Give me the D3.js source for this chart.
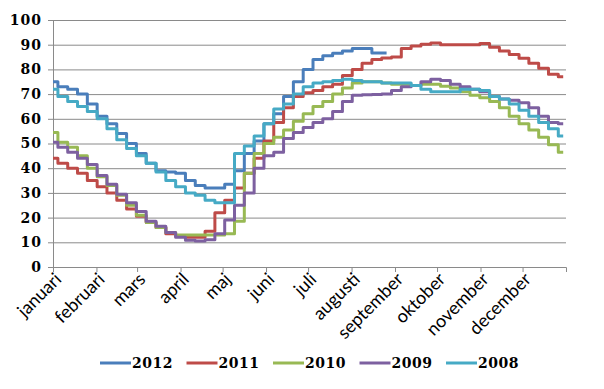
<!DOCTYPE html>
<html>
<head>
<meta charset="utf-8">
<script src="https://cdn.jsdelivr.net/npm/d3@7"></script>
<style>
  body { margin: 0; background: #fff; }
  #app { width: 604px; height: 389px; }
</style>
</head>
<body>
<div id="app"></div>
<script>
(function (d3) {
  'use strict'

  // weekly values, week 1..53
  const months = ['januari', 'februari', 'mars', 'april', 'maj', 'juni', 'juli',
    'augusti', 'september', 'oktober', 'november', 'december']
  const yTicks = [0, 10, 20, 30, 40, 50, 60, 70, 80, 90, 100]

  const v2012 = [75, 73, 72, 70, 66, 61, 58, 54, 50, 46, 42, 39, 38.5, 38, 35, 33, 32, 32, 33.5,
    39, 46, 51, 58, 62, 69, 75, 80, 84, 85.5, 86.5, 87.5, 88.5, 88.5, 86.6, 86.6]
  const v2011 = [44, 42, 40, 38, 35, 32.5, 30, 27, 23.5, 20.5, 18, 16, 13.5, 12.5, 12, 12, 14.5,
    22, 27, 32, 38, 44, 51, 58.5, 64.5, 69, 70.5, 71.5, 73, 74, 77.5, 80, 82.5, 84, 84.6, 85,
    88.5, 89.5, 90.2, 90.7, 90, 90, 90, 90, 90.5, 89, 87.5, 86, 84.5, 82.5, 80.5, 78, 77]
  const v2010 = [54.5, 50.5, 48.5, 45, 40, 36.5, 33, 29, 25, 21, 18, 16, 14, 13, 13, 13, 13, 13,
    13.5, 18.5, 38, 46, 50, 52.5, 55.5, 59, 62, 65, 67, 70, 72.5, 74.5, 75, 75, 74.5, 74, 74,
    73.5, 74, 74, 73.2, 72.5, 71, 69.5, 68.5, 67, 64.5, 61, 58, 55.5, 52.5, 49.5, 46.5]
  const v2009 = [50.5, 48.5, 46.5, 44, 41.5, 37, 33.5, 29.5, 26, 22.5, 18.5, 16.5, 14, 12, 10.8,
    10.5, 11, 13.5, 19, 25, 30, 40, 45, 46.5, 52, 54.5, 56.5, 58.5, 60, 63, 67, 69.5, 69.7, 69.8,
    70, 71.5, 73, 73.5, 75, 76, 75.5, 74, 73, 72, 71, 69, 68, 67.5, 66.5, 64.5, 61, 58.5, 58]
  const v2008 = [72, 69, 67, 65, 63, 60, 56, 51.5, 48, 45, 42, 38.5, 35, 32.5, 30, 29, 27, 26, 26,
    46, 49, 53, 58, 64, 66, 70, 73, 74.5, 75, 75.5, 76, 75.5, 75, 75, 74.5, 74.5, 74.5, 73.5, 72,
    71, 71, 71, 72, 72, 71.5, 69, 68, 66, 63.5, 61, 58.5, 56, 53]

  const seriesNames = ['2012', '2011', '2010', '2009', '2008']
  const seriesValues = [v2012, v2011, v2010, v2009, v2008]
  const colors = ['#4a7ebb', '#be4b48', '#98b954', '#7d60a0', '#46aac5']

  const margin = {top: 20, left: 53, right: 38, bottom: 122}
  const w = 604
  const h = 389
  const iw = w - margin.left - margin.right
  const ih = h - margin.top - margin.bottom

  const svg = d3.select('#app').append('svg')
    .attr('width', w)
    .attr('height', h)

  const g = svg.append('g')
    .attr('transform', 'translate(' + margin.left + ',' + margin.top + ')')

  const x = d3.scaleLinear().domain([0, 366]).range([0, iw])
  const y = d3.scaleLinear().domain([0, 100]).range([ih, 0])

  // month start days (2012)
  const monthStarts = months.map((m, i) => d3.timeDay.count(new Date(2012, 0, 1), new Date(2012, i, 1)))

  // gridlines
  g.append('g')
    .selectAll('line')
    .data(yTicks.filter(t => t > 0))
    .enter().append('line')
    .attr('x1', 0)
    .attr('x2', iw)
    .attr('y1', d => y(d) + 0.5)
    .attr('y2', d => y(d) + 0.5)
    .attr('stroke', '#8a8a8a')
    .attr('stroke-width', 1)

  // y axis
  const yAxis = g.append('g')
    .call(d3.axisLeft(y).tickValues(yTicks).tickSize(5).tickPadding(6))
  yAxis.select('.domain').attr('stroke', '#8a8a8a')
  yAxis.selectAll('.tick line').attr('stroke', '#8a8a8a')
  yAxis.selectAll('text')
    .style('font-family', '"DejaVu Serif", serif')
    .style('font-weight', 'bold')
    .style('font-size', '14px')
    .style('letter-spacing', '1px')
    .attr('fill', '#000')

  // x axis (labels drawn separately, rotated)
  const xAxis = g.append('g')
    .attr('transform', 'translate(0,' + ih + ')')
    .call(d3.axisBottom(x).tickValues(monthStarts).tickSize(5).tickFormat(''))
  xAxis.select('.domain').attr('stroke', '#8a8a8a')
  xAxis.selectAll('.tick line').attr('stroke', '#8a8a8a')

  g.append('g')
    .selectAll('text')
    .data(monthStarts)
    .enter().append('text')
    .attr('transform', d => 'translate(' + (x(d) + 5) + ',' + (ih + 9) + ') rotate(-45)')
    .attr('text-anchor', 'end')
    .attr('dy', '0.35em')
    .style('font-family', 'Lato, "Open Sans", sans-serif')
    .style('font-size', '18px')
    .attr('fill', '#000')
    .text((d, i) => months[i])

  // series lines
  const line = d3.line()
    .x((d, i) => x(i * 7))
    .y(d => y(d))
    .curve(d3.curveStep)

  g.append('g')
    .selectAll('path')
    .data(seriesValues)
    .enter().append('path')
    .attr('d', d => line(d))
    .attr('fill', 'none')
    .attr('stroke', (d, i) => colors[i])
    .attr('stroke-width', 3)
    .attr('stroke-linejoin', 'round')

  // legend
  const legend = svg.append('g')
    .selectAll('g')
    .data(seriesNames)
    .enter().append('g')
    .attr('transform', (d, i) => 'translate(' + (100 + i * 86.5) + ',363)')
  legend.append('line')
    .attr('x1', 0)
    .attr('x2', 31)
    .attr('stroke', (d, i) => colors[i])
    .attr('stroke-width', 3)
  legend.append('text')
    .attr('x', 32)
    .attr('y', 5)
    .style('font-family', '"DejaVu Serif", serif')
    .style('font-weight', 'bold')
    .style('font-size', '14px')
    .style('letter-spacing', '0.5px')
    .text(d => d)

}(d3))
</script>
</body>
</html>
